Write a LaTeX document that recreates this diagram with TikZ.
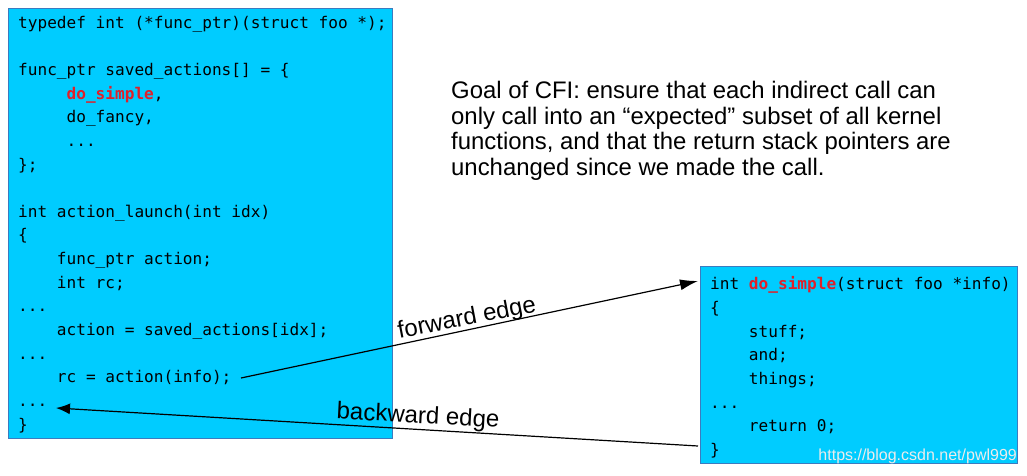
\documentclass[tikz,border=0pt]{standalone}
\usepackage{fontspec}
\setmainfont{Liberation Sans}
\newfontfamily\codefont{DejaVu Sans Mono}
\usetikzlibrary{arrows.meta}
\definecolor{boxfill}{HTML}{00CCFF}
\definecolor{boxline}{HTML}{3C7BBF}
\definecolor{hired}{HTML}{E0202A}
\newcommand\hl[1]{\textcolor{hired}{\bfseries #1}}
\tikzset{
  codebox/.style={draw=boxline, line width=0.8pt, fill=boxfill, inner sep=0pt},
  codetext/.style={anchor=north west, inner sep=0pt, align=left,
    font={\codefont\fontsize{16.1}{23.65}\selectfont}},
  edge/.style={line width=1.2pt, -{Latex[length=#1,width=11pt]}},
  edge/.default=16pt,
  edgelabel/.style={font=\fontsize{24}{28}\selectfont, inner sep=0pt},
}
\begin{document}
\begin{tikzpicture}[x=1pt,y=-1pt]
\useasboundingbox (0,0) rectangle (1027,476);
% boxes
\node[codebox, minimum width=384pt, minimum height=430pt, anchor=north west] (lbox) at (8,8) {};
\node[codebox, minimum width=317pt, minimum height=197pt, anchor=north west] (rbox) at (700,266) {};
% left code
\node[codetext] (lcode) at (18,15.7) {typedef int (*func\_ptr)(struct foo *);\\
\strut\\
func\_ptr saved\_actions[] = \{\\
~~~~~\hl{do\_simple},\\
~~~~~do\_fancy,\\
~~~~~...\\
\};\\
\strut\\
int action\_launch(int idx)\\
\{\\
~~~~func\_ptr action;\\
~~~~int rc;\\
...\\
~~~~action = saved\_actions[idx];\\
...\\
~~~~rc = action(info);\\
...\\
\}};
% right code
\node[codetext] (rcode) at (710,276.7) {int \hl{do\_simple}(struct foo *info)\\
\{\\
~~~~stuff;\\
~~~~and;\\
~~~~things;\\
...\\
~~~~return 0;\\
\}};
% goal text
\node[anchor=north west, inner sep=0pt, align=left,
  font=\fontsize{23.9}{25.7}\selectfont] (goal) at (451,81)
  {Goal of CFI: ensure that each indirect call can\\
   only call into an “expected” subset of all kernel\\
   functions, and that the return stack pointers are\\
   unchanged since we made the call.};
% connectors
\coordinate (fs) at (241,378);
\coordinate (fe) at (698,281);
\coordinate (bs) at (698,446);
\coordinate (be) at (56,408);
\draw[edge=18pt] (fs) -- (fe);
\draw[edge=14pt] (bs) -- (be);
\node[edgelabel, rotate=11] (flabel) at (467,319) {forward edge};
\node[edgelabel, rotate=-3] (blabel) at (418,417) {backward edge};
% watermark
\node[anchor=east, inner sep=0pt, text=white!85!gray, font=\fontsize{16}{19}\selectfont] (wm) at (1017,456) {https://blog.csdn.net/pwl999};
\end{tikzpicture}
\end{document}
